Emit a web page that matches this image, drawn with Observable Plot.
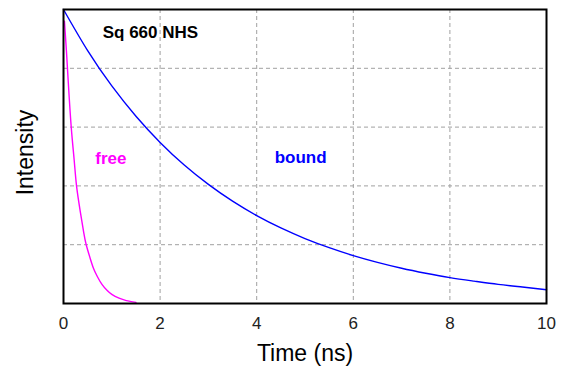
<!DOCTYPE html>
<html>
<head>
<meta charset="utf-8">
<script src="https://cdn.jsdelivr.net/npm/d3@7"></script>
<script src="https://cdn.jsdelivr.net/npm/@observablehq/plot@0.6"></script>
<style>
  html, body { margin: 0; padding: 0; background: white; }
</style>
</head>
<body>
<div id="chart"></div>
<script>
// Bound dye decay (time in ns, relative intensity)
const boundTime = [0, 0.5, 1, 1.5, 2, 2.5, 3, 3.5, 4, 4.5, 5, 5.5, 6, 6.5, 7, 7.5, 8, 8.5, 9, 9.5, 10];
const boundIntensity = [1.0, 0.86, 0.74, 0.637, 0.548, 0.471, 0.405, 0.348, 0.299, 0.257, 0.221, 0.19, 0.163, 0.14, 0.12, 0.103, 0.088, 0.076, 0.065, 0.056, 0.047];

// Free dye decay
const freeTime = [0.02, 0.06, 0.1, 0.16, 0.22, 0.27, 0.35, 0.42, 0.47, 0.55, 0.62, 0.7, 0.8, 0.9, 1.0, 1.15, 1.3, 1.5];
const freeIntensity = [0.96, 0.86, 0.75, 0.60, 0.49, 0.40, 0.31, 0.24, 0.20, 0.155, 0.12, 0.092, 0.064, 0.045, 0.031, 0.018, 0.01, 0.004];

const xTicks = [0, 2, 4, 6, 8, 10];
const xGrid = [2, 4, 6, 8];
const yGrid = [0.2, 0.4, 0.6, 0.8];

const labelText = ["Sq 660 NHS", "free", "bound"];
const labelX = [1.8, 0.98, 4.91];
const labelY = [0.92, 0.493, 0.497];
const labelColor = ["black", "#ff00ff", "#0000ff"];

const bound = boundTime.map((t, i) => ({t, v: boundIntensity[i]}));
const free = freeTime.map((t, i) => ({t, v: freeIntensity[i]}));
const labels = labelText.map((text, i) => ({text, x: labelX[i], y: labelY[i], color: labelColor[i]}));

const chart = Plot.plot({
  width: 566,
  height: 372,
  marginLeft: 63,
  marginRight: 20,
  marginTop: 9,
  marginBottom: 69,
  style: {fontFamily: "'Liberation Sans', Arial, sans-serif", background: "white", overflow: "visible"},
  x: {domain: [0, 10], axis: null},
  y: {domain: [0, 1], axis: null},
  marks: [
    Plot.ruleX(xGrid, {stroke: "#a0a0a0", strokeDasharray: "4,3", strokeWidth: 1}),
    Plot.ruleY(yGrid, {stroke: "#a0a0a0", strokeDasharray: "4,3", strokeWidth: 1}),
    Plot.line(bound, {x: "t", y: "v", stroke: "#0000ff", strokeWidth: 1.4, curve: "natural"}),
    Plot.line(free, {x: "t", y: "v", stroke: "#ff00ff", strokeWidth: 1.4, curve: "natural"}),
    Plot.frame({stroke: "black", strokeWidth: 2}),
    Plot.axisX(xTicks, {tickSize: 0, tickPadding: 13, fontSize: 17, fill: "#222", label: null}),
    Plot.text(labels, {x: "x", y: "y", text: "text", fill: "color", fontSize: 17, fontWeight: "bold"}),
    Plot.text(["Time (ns)"], {frameAnchor: "bottom", dy: 57, fontSize: 23, fill: "black"}),
    Plot.text(["Intensity"], {frameAnchor: "left", textAnchor: "middle", dx: -38, dy: -4, rotate: -90, fontSize: 23, fill: "black"})
  ]
});
document.getElementById("chart").appendChild(chart);
</script>
</body>
</html>
